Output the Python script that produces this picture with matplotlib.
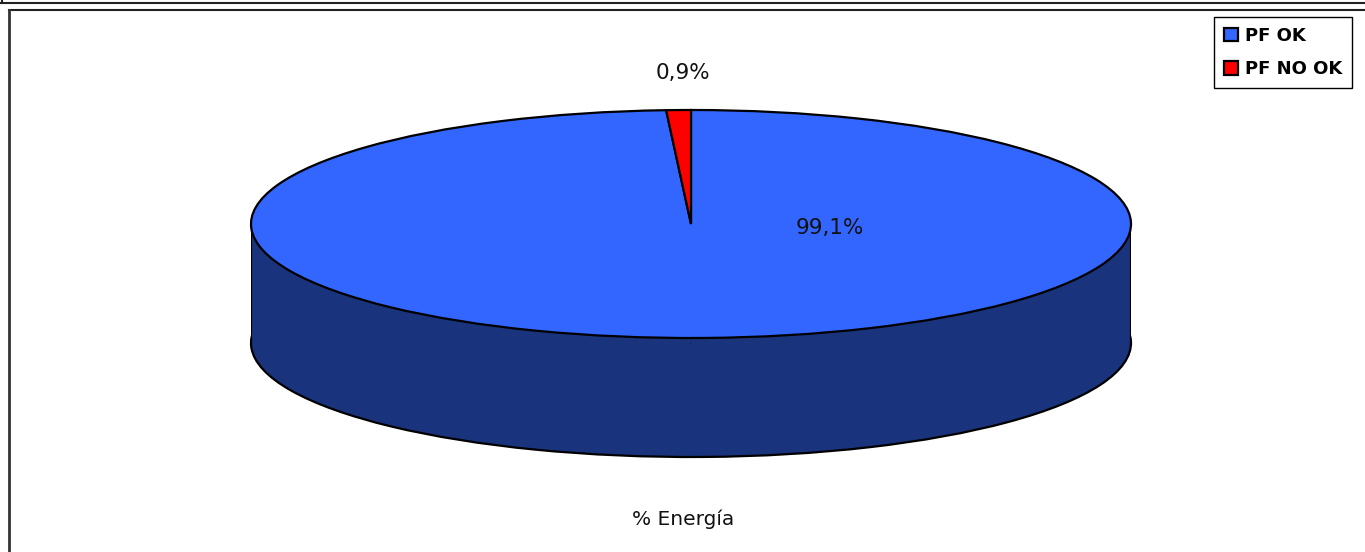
import matplotlib
matplotlib.use("Agg")
import matplotlib.pyplot as plt
from matplotlib.patches import Rectangle
from matplotlib.lines import Line2D

# data
labels = ["PF OK", "PF NO OK"]
values = [99.1, 0.9]
top_colors = ["#3366FF", "#FF0000"]
side_colors = ["#1A337D", "#800000"]
category = "% Energía"

W, H = 1365, 552
fig = plt.figure(figsize=(W / 100, H / 100), dpi=100)
plt.rcParams['font.family'] = ['DejaVu Sans']

# ellipse geometry in pixels (from top of image)
cx, cy, a, b, depth_px = 691, 224, 440, 114, 119
pad = 12
ax = fig.add_axes([(cx - a) / W, (H - cy - b - depth_px - pad) / H,
                   2 * a / W, (2 * b + depth_px + 2 * pad) / H])
depth = depth_px / b

edge = dict(edgecolor="black", linewidth=1.6)

# bottom face of the pie
bottom, _ = ax.pie(values, colors=side_colors, startangle=90, counterclock=False,
                   center=(0, -depth), wedgeprops=edge)
for w in bottom:
    w.set_zorder(1)
# side wall
ax.add_patch(Rectangle((-1, -depth), 2, depth, facecolor=side_colors[0],
                       edgecolor="none", zorder=2))
ax.plot([-1, -1], [-depth, 0], color="black", lw=1.6, zorder=3)
ax.plot([1, 1], [-depth, 0], color="black", lw=1.6, zorder=3)
# top face
top, _ = ax.pie(values, colors=top_colors, startangle=90, counterclock=False,
                wedgeprops=edge)
for w in top:
    w.set_zorder(4)

ax.set_aspect("auto")
ax.set_xlim(-1, 1)
ax.set_ylim(-1 - depth - pad / b, 1 + pad / b)
ax.axis("off")

def pct(v):
    return f"{v:.1f}%".replace(".", ",")

fs = 15.5
fig.text(830 / W, 1 - 228 / H, pct(values[0]), ha="center", va="center",
         fontsize=fs, color="#111111")
fig.text(683 / W, 1 - 73 / H, pct(values[1]), ha="center", va="center",
         fontsize=fs, color="#111111")
fig.text(683 / W, 1 - 519 / H, category, ha="center", va="center",
         fontsize=14.5, color="#111111")

leg = fig.legend(handles=top, labels=labels, loc="upper right",
                 bbox_to_anchor=(1352 / W, 1 - 17 / H), frameon=True,
                 fancybox=False, edgecolor="black", framealpha=1,
                 prop=dict(weight="bold", size=13), handlelength=0.75,
                 handleheight=0.75, handletextpad=0.4, borderpad=0.55,
                 labelspacing=0.85, borderaxespad=0)
leg.get_frame().set_linewidth(1.0)

# chart frames
fig.add_artist(Line2D([0, 1], [1 - 2.5 / H, 1 - 2.5 / H], color="#222222", lw=1.5))
fig.add_artist(Line2D([1.5 / W, 1.5 / W], [1, 1 - 2.5 / H], color="#222222", lw=1.5))
fig.add_artist(Line2D([8.5 / W, 1.01], [1 - 9.5 / H, 1 - 9.5 / H], color="#222222", lw=1.5))
fig.add_artist(Line2D([8.5 / W, 8.5 / W], [1 - 9.5 / H, -0.01], color="#333333", lw=2))

fig.savefig("out.png", dpi=100)
